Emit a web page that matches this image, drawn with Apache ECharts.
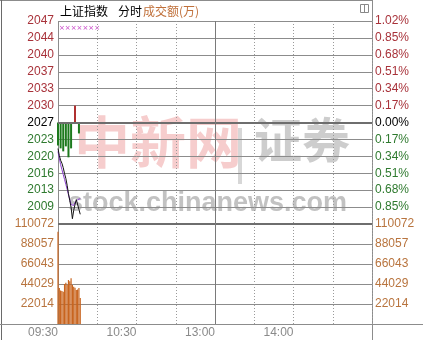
<!DOCTYPE html>
<html><head><meta charset="utf-8">
<script src="https://cdn.jsdelivr.net/npm/echarts@6/dist/echarts.min.js"></script>
<style>html,body{margin:0;padding:0;background:#fff}#c{width:423px;height:340px}</style>
</head><body><div id="c"></div>
<script>
// ---- data ----
const preClose = 2026.8;
const priceTickLabels = ['', '2009', '2013', '2016', '2020', '2023', '2027', '2030', '2033', '2037', '2040', '2044', '2047'];
const pctTickLabels = ['', '0.85%', '0.68%', '0.51%', '0.34%', '0.17%', '0.00%', '0.17%', '0.34%', '0.51%', '0.68%', '0.85%', '1.02%'];
const volTickLabels = ['', '22014', '44029', '66043', '88057', '110072'];
const timeTickLabels = ['09:30', '10:30', '13:00', '14:00'];
const price = [2021.5, 2020.1, 2019.1, 2018.5, 2017.6, 2016.4, 2015.4, 2014.0, 2012.3, 2010.9, 2009.5, 2007.2, 2008.9, 2010.1, 2011.1, 2010.7, 2009.1, 2008.1];
const avgPrice = [2020.9, 2019.5, 2018.2, 2017.2, 2016.2, 2015.2, 2014.2, 2013.2, 2012.1, 2011.1, 2010.1, 2009.7, 2009.9, 2010.5, 2010.9, 2011.1, 2011.3, 2011.3];
const strength = [-23, null, -26, null, -29, null, -24, null, -35, null, -26, null, null, 17, null, null, -11, null];
const volume = [101600, 39600, 37000, 36300, 35500, 44000, 45500, 42900, 48400, 47000, 50300, 42900, 41000, 40000, 37400, 38000, 39600, 28600];

// ---- axis domain: trading minutes ----
const minutes = [];
function pad(n){return (n<10?'0':'')+n;}
for (let t = 9*60+30; t < 11*60+30; t++) minutes.push(pad(Math.floor(t/60))+':'+pad(t%60));
for (let t = 13*60; t <= 15*60; t++) minutes.push(pad(Math.floor(t/60))+':'+pad(t%60));

const toBp = p => (p / preClose - 1) * 10000;
const RED = '#a8323a', GREEN = '#2f7a2f', VOL = '#b8743e';
const FONT = 'Liberation Sans';

const chart = echarts.init(document.getElementById('c'), null, {renderer: 'canvas'});
const splitX = {show: true, interval: (i) => i % 30 === 0 && i !== 0, lineStyle: {color: '#9a9a9a', type: [1, 2], width: 1}};
chart.setOption({
  animation: false,
  grid: [
    {left: 58, top: 21, width: 314, height: 203},
    {left: 58, top: 224, width: 314, height: 100}
  ],
  xAxis: [
    {type: 'category', gridIndex: 0, data: minutes, boundaryGap: false, axisLine: {show: false}, axisTick: {show: false}, axisLabel: {show: false}, splitLine: splitX},
    {type: 'category', gridIndex: 1, data: minutes, boundaryGap: false, axisLine: {show: false}, axisTick: {show: false},
      splitLine: splitX,
      axisLabel: {show: true, interval: 0, formatter: v => timeTickLabels.indexOf(v) >= 0 ? v : '', align: 'right', margin: 3, color: '#8a8a8a', fontFamily: FONT, fontSize: 12}}
  ],
  yAxis: [
    {type: 'value', gridIndex: 0, min: -102, max: 102, interval: 17, position: 'left',
      axisLine: {show: false}, axisTick: {show: false}, splitLine: {show: true, lineStyle: {color: '#8c8c8c', width: 1}},
      axisLabel: {showMinLabel: true, showMaxLabel: true, margin: 4, fontFamily: FONT, fontSize: 12,
        formatter: v => priceTickLabels[Math.round((v + 102) / 17)],
        color: v => v > 0.5 ? RED : (v < -0.5 ? GREEN : '#000')}},
    {type: 'value', gridIndex: 0, min: -102, max: 102, interval: 17, position: 'right',
      axisLine: {show: false}, axisTick: {show: false}, splitLine: {show: false},
      axisLabel: {showMinLabel: true, showMaxLabel: true, margin: 3, fontFamily: FONT, fontSize: 12,
        formatter: v => pctTickLabels[Math.round((v + 102) / 17)],
        color: v => v > 0.5 ? RED : (v < -0.5 ? GREEN : '#000')}},
    {type: 'value', gridIndex: 1, min: 0, max: 110072, interval: 110072 / 5, position: 'left',
      axisLine: {show: false}, axisTick: {show: false}, splitLine: {show: true, lineStyle: {color: '#8c8c8c', width: 1}},
      axisLabel: {showMinLabel: true, showMaxLabel: true, margin: 4, fontFamily: FONT, fontSize: 12, color: VOL,
        formatter: v => volTickLabels[Math.round(v / (110072 / 5))]}},
    {type: 'value', gridIndex: 1, min: 0, max: 110072, interval: 110072 / 5, position: 'right',
      axisLine: {show: false}, axisTick: {show: false}, splitLine: {show: false},
      axisLabel: {showMinLabel: true, showMaxLabel: true, margin: 3, fontFamily: FONT, fontSize: 12, color: VOL,
        formatter: v => volTickLabels[Math.round(v / (110072 / 5))]}}
  ],
  series: [
    {type: 'bar', xAxisIndex: 0, yAxisIndex: 0, barWidth: 2, data: strength.map(v => v == null ? null : {value: v, itemStyle: {color: v > 0 ? '#b03030' : '#1d7a1d'}}),
      markLine: {silent: true, symbol: 'none', label: {show: false}, lineStyle: {color: '#6e6e6e', width: 2, type: 'solid'},
        data: [{yAxis: 0}, {yAxis: -102}]}},
    {type: 'line', xAxisIndex: 0, yAxisIndex: 0, data: avgPrice.map(toBp), showSymbol: false, lineStyle: {color: '#8a3ccf', width: 1}, z: 3,
      markLine: {silent: true, symbol: 'none', label: {show: false}, lineStyle: {color: '#7a7a7a', width: 1, type: 'solid'}, data: [{xAxis: '13:00'}]}},
    {type: 'line', xAxisIndex: 0, yAxisIndex: 0, data: price.map(toBp), showSymbol: false, lineStyle: {color: '#111', width: 1}, z: 4},
    {type: 'bar', xAxisIndex: 1, yAxisIndex: 2, barWidth: 1.2, data: volume, itemStyle: {color: '#c8641e'},
      markLine: {silent: true, symbol: 'none', label: {show: false}, lineStyle: {color: '#7a7a7a', width: 1, type: 'solid'}, data: [{xAxis: '13:00'}]}}
  ],
  graphic: [
    // watermark
    {type: 'text', left: 74, top: 114, silent: true, z: 0, style: {text: '中新网', font: 'bold 56px "Noto Sans CJK SC"', fill: 'rgba(225,90,90,0.3)'}},
    {type: 'rect', shape: {x: 238, y: 128, width: 4, height: 56}, silent: true, z: 0, style: {fill: 'rgba(140,140,140,0.35)'}},
    {type: 'text', left: 254, top: 116, silent: true, z: 0, style: {text: '证券', font: 'bold 48px "Noto Sans CJK SC"', fill: 'rgba(130,130,130,0.4)'}},
    {type: 'text', left: 68, top: 190, silent: true, z: 0, style: {text: 'stock.chinanews.com', font: 'bold 27px "Liberation Sans"', fill: 'rgba(120,120,120,0.45)'}},
    // title
    {type: 'text', left: 60, top: 5, style: {text: '上证指数', font: '12px "Noto Sans CJK SC"', fill: '#000'}},
    {type: 'text', left: 118, top: 5, style: {text: '分时', font: '12px "Noto Sans CJK SC"', fill: '#000'}},
    {type: 'text', left: 143, top: 5, style: {text: '成交额(万)', font: '12px "Noto Sans CJK SC"', fill: '#c0703a'}},
    {type: 'text', left: 59, top: 25, style: {text: '×××××××', font: '7px "DejaVu Sans"', fill: '#c43cc4'}},
    // frame
    {type: 'line', shape: {x1: 0, y1: 0.5, x2: 372, y2: 0.5}, style: {stroke: '#8c8c8c', lineWidth: 1}},
    {type: 'line', shape: {x1: 1.5, y1: 0, x2: 1.5, y2: 340}, style: {stroke: '#6a6a6a', lineWidth: 1}},
    {type: 'line', shape: {x1: 58.5, y1: 21, x2: 58.5, y2: 324}, style: {stroke: '#8c8c8c', lineWidth: 1}},
    {type: 'line', shape: {x1: 372.5, y1: 0, x2: 372.5, y2: 340}, style: {stroke: '#8c8c8c', lineWidth: 1}},
    {type: 'line', shape: {x1: 0, y1: 324.5, x2: 423, y2: 324.5}, style: {stroke: '#8c8c8c', lineWidth: 1}},
    {type: 'rect', shape: {x: 360.5, y: 4.5, width: 8, height: 8}, style: {fill: '#fff', stroke: '#888', lineWidth: 1}},
    {type: 'line', shape: {x1: 364.5, y1: 4.5, x2: 364.5, y2: 12.5}, style: {stroke: '#888', lineWidth: 1}}
  ]
});
</script></body></html>
